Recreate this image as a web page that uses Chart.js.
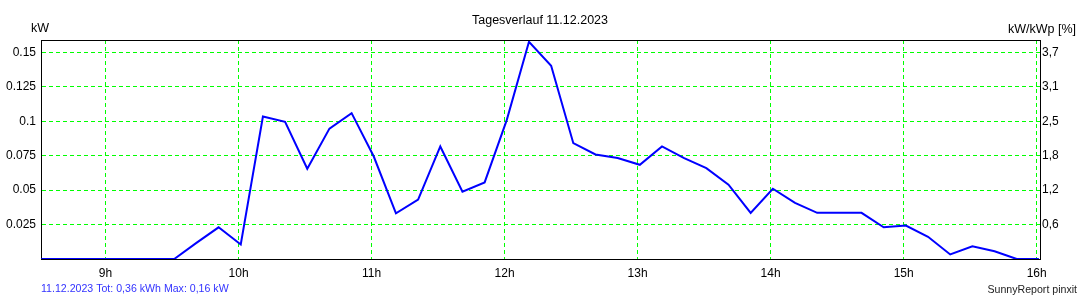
<!DOCTYPE html>
<html>
<head>
<meta charset="utf-8">
<title>Tagesverlauf 11.12.2023</title>
<script src="https://cdn.jsdelivr.net/npm/chart.js@4/dist/chart.umd.min.js"></script>
<style>
  body { margin: 0; background: #fff; }
  canvas { display: block; }
</style>
</head>
<body>
<canvas id="dayChart" width="1080" height="300"></canvas>
<script>
// Data (10 minute values, kW)
const times = ["08:31","08:41","08:51","09:01","09:11","09:21","09:31","09:41","09:51",
  "10:01","10:11","10:21","10:31","10:41","10:51","11:01","11:11","11:21","11:31","11:41","11:51",
  "12:01","12:11","12:21","12:31","12:41","12:51","13:01","13:11","13:21","13:31","13:41","13:51",
  "14:01","14:11","14:21","14:31","14:41","14:51","15:01","15:11","15:21","15:31","15:41","15:51","16:01"];
const power = [0,0,0,0,0,0,0,0.0117,0.023,
  0.0105,0.1034,0.0996,0.0655,0.0947,0.1059,0.0744,0.0332,0.0431,0.0817,0.0489,0.0556,
  0.101,0.1577,0.1403,0.0841,0.0759,0.0733,0.0684,0.0817,0.0733,0.066,0.054,0.0335,
  0.051,0.0407,0.0335,0.0335,0.0335,0.023,0.0243,0.0161,0.0033,0.0093,0.0056,0,0];

// Axis ticks
const hourTicks = [9,10,11,12,13,14,15,16];
const kwTicks = [0.025,0.05,0.075,0.1,0.125,0.15];
const kwLabels = ["0.025","0.05","0.075","0.1","0.125","0.15"];
const pctLabels = ["0,6","1,2","1,8","2,5","3,1","3,7"];

const FONT = '"Liberation Sans", Arial, sans-serif';

function toHours(t) {
    const p = t.split(":");
    return +p[0] + p[1] / 60;
}
const points = times.map((t, i) => ({x: toHours(t), y: power[i]}));

// Texts around the chart + top border
const frame = {
    id: 'frame',
    afterDraw(chart) {
        const c = chart.ctx, a = chart.chartArea;
        c.save();
        c.strokeStyle = '#000';
        c.lineWidth = 1;
        c.beginPath();
        c.moveTo(a.left, a.top + 0.5);
        c.lineTo(a.right + 1, a.top + 0.5);
        c.stroke();

        c.fillStyle = '#000';
        c.textBaseline = 'alphabetic';
        c.font = '12.5px ' + FONT;
        c.textAlign = 'center';
        c.fillText('Tagesverlauf 11.12.2023', 540, 24);
        c.font = '12.5px ' + FONT;
        c.textAlign = 'left';
        c.fillText('kW', 31, 32);
        c.textAlign = 'right';
        c.fillText('kW/kWp [%]', 1076, 32.5);

        c.font = '10.6px ' + FONT;
        c.textAlign = 'left';
        c.fillStyle = '#3333ff';
        c.fillText('11.12.2023 Tot: 0,36 kWh Max: 0,16 kW', 41, 292);
        c.textAlign = 'right';
        c.fillStyle = '#222';
        c.fillText('SunnyReport pinxit', 1077, 293);
        c.restore();
    }
};

new Chart(document.getElementById('dayChart'), {
    type: 'line',
    data: {
        datasets: [{
            data: points,
            borderColor: '#0000ff',
            borderWidth: 2,
            pointRadius: 0,
            tension: 0,
            fill: false
        }]
    },
    options: {
        responsive: false,
        animation: false,
        layout: { padding: { top: 40, left: 0, right: 0, bottom: 0 } },
        plugins: { legend: { display: false }, tooltip: { enabled: false } },
        scales: {
            x: {
                type: 'linear',
                min: 8.515,
                max: 16.025,
                afterBuildTicks: s => { s.ticks = hourTicks.map(v => ({value: v})); },
                afterFit: s => { s.height = 41; },
                grid: { color: '#00ff00', lineWidth: 1, drawTicks: false },
                border: { color: '#000', width: 1, dash: [4, 3] },
                ticks: {
                    color: '#000', padding: 7, maxRotation: 0,
                    font: { family: FONT, size: 12 },
                    callback: v => v + 'h'
                }
            },
            y: {
                position: 'left',
                min: 0,
                max: 0.159,
                afterBuildTicks: s => { s.ticks = kwTicks.map(v => ({value: v})); },
                afterFit: s => { s.width = 41; },
                grid: { color: '#00ff00', lineWidth: 1, drawTicks: false },
                border: { color: '#000', width: 1, dash: [4, 3] },
                ticks: {
                    color: '#000', padding: 5,
                    font: { family: FONT, size: 12 },
                    callback: (v, i) => kwLabels[i]
                }
            },
            y2: {
                position: 'right',
                min: 0,
                max: 0.159,
                afterBuildTicks: s => { s.ticks = kwTicks.map(v => ({value: v})); },
                afterFit: s => { s.width = 40; },
                grid: { display: false, drawTicks: false },
                border: { color: '#000', width: 1 },
                ticks: {
                    color: '#000', padding: 2,
                    font: { family: FONT, size: 12 },
                    callback: (v, i) => pctLabels[i]
                }
            }
        }
    },
    plugins: [frame]
});
</script>
</body>
</html>
